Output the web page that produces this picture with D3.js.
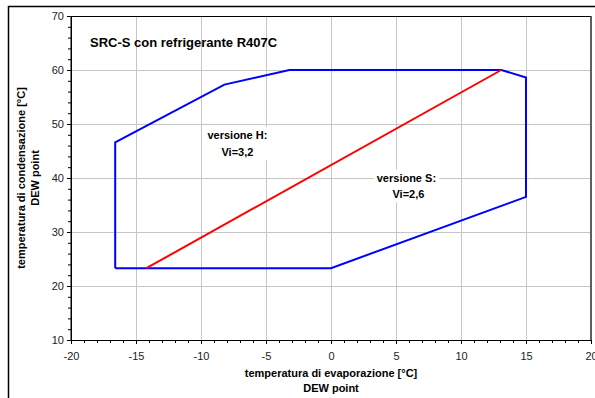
<!DOCTYPE html>
<html>
<head>
<meta charset="utf-8">
<script src="https://cdn.jsdelivr.net/npm/d3@7"></script>
<style>
    body { margin: 0; background: #fff; }
    svg { font-family: "Liberation Sans", Arial, sans-serif; }
</style>
</head>
<body>
<div id="chart"></div>
<script>
// envelope corners (evaporation °C, condensation °C)
const envelopeX = [-16.6, -16.6, -8.2, -3.2, 13.1, 15.0, 15.0, 0.0, -16.6];
const envelopeY = [23.3, 46.6, 57.3, 60.0, 60.0, 58.6, 36.5, 23.3, 23.3];
// split line between versions
const splitX = [-14.2, 13.1];
const splitY = [23.3, 60.0];

const xTicks = [-20, -15, -10, -5, 0, 5, 10, 15, 20];
const yTicks = [10, 20, 30, 40, 50, 60, 70];

const labels = [
    { x: -7.2, y: 47.2, lines: ["versione H:", "Vi=3,2"], shift: 0 },
    { x: 5.8, y: 39.3, lines: ["versione S:", "Vi=2,6"], shift: 2 }
];

const width = 595;
const height = 398;
const margin = { top: 16, right: 4, bottom: 58, left: 71 };

const svg = d3.select("#chart").append("svg")
    .attr("width", width)
    .attr("height", height);

// outer frame (clipped at right and bottom)
svg.append("path")
    .attr("d", "M8.5,398V6.5H595")
    .attr("fill", "none")
    .attr("stroke", "#000")
    .attr("stroke-width", 1.5);

const x = d3.scaleLinear().domain([-20, 20]).range([margin.left, width - margin.right]);
const y = d3.scaleLinear().domain([10, 70]).range([height - margin.bottom, margin.top]);

// grid
svg.append("g").selectAll("line")
    .data(xTicks.slice(1, -1))
    .enter().append("line")
    .attr("x1", d => Math.round(x(d)) + 0.5)
    .attr("x2", d => Math.round(x(d)) + 0.5)
    .attr("y1", y(70))
    .attr("y2", y(10))
    .attr("stroke", "#c6c6c6");

svg.append("g").selectAll("line")
    .data(yTicks.slice(1, -1))
    .enter().append("line")
    .attr("x1", x(-20))
    .attr("x2", x(20))
    .attr("y1", d => Math.round(y(d)) + 0.5)
    .attr("y2", d => Math.round(y(d)) + 0.5)
    .attr("stroke", "#c6c6c6");

// annotation boxes (white background over grid)
const ann = svg.append("g")
    .attr("font-size", "11px")
    .attr("font-weight", "bold")
    .attr("fill", "#000");

labels.forEach(l => {
    const g = ann.append("g")
        .attr("transform", `translate(${x(l.x)},${y(l.y)})`);
    const bg = g.append("rect").attr("fill", "#fff");
    l.lines.forEach((t, i) => {
        g.append("text")
            .attr("x", i === 1 ? l.shift : 0)
            .attr("y", i * 16.5)
            .attr("text-anchor", "middle")
            .text(t);
    });
    const bb = g.node().getBBox();
    bg.attr("x", bb.x - 3).attr("y", bb.y - 2)
        .attr("width", bb.width + 6).attr("height", bb.height + 4);
});

// plot border
svg.append("rect")
    .attr("x", x(-20))
    .attr("y", y(70) + 0.5)
    .attr("width", x(20) - x(-20))
    .attr("height", y(10) - y(70))
    .attr("fill", "none")
    .attr("stroke", "#000");

svg.append("line")
    .attr("x1", x(20)).attr("x2", x(20))
    .attr("y1", y(70)).attr("y2", y(10))
    .attr("stroke", "#555")
    .attr("stroke-width", 1.5);

// axes
const xAxis = svg.append("g")
    .attr("transform", `translate(0,${y(10)})`)
    .call(d3.axisBottom(x).tickValues(xTicks).tickSize(4).tickPadding(8)
        .tickFormat(d => d));
xAxis.select(".domain").attr("stroke", "#000");

svg.append("g")
    .attr("transform", `translate(0,${y(10)})`)
    .call(d3.axisBottom(x).tickValues(d3.range(-20, 21, 1)).tickSize(3).tickFormat(""))
    .call(g => g.select(".domain").remove());

const yAxis = svg.append("g")
    .attr("transform", `translate(${x(-20)},0)`)
    .call(d3.axisLeft(y).tickValues(yTicks).tickSize(4).tickPadding(3));
yAxis.select(".domain").attr("stroke", "#000");

svg.append("g")
    .attr("transform", `translate(${x(-20)},0)`)
    .call(d3.axisLeft(y).tickValues(d3.range(10, 71, 2)).tickSize(3).tickFormat(""))
    .call(g => g.select(".domain").remove());

svg.selectAll(".tick text")
    .attr("font-size", "11px")
    .attr("fill", "#222")
    .attr("font-family", "Liberation Sans, Arial, sans-serif");

// envelope
const line = d3.line()
    .x(d => x(d[0]))
    .y(d => y(d[1]));

svg.append("path")
    .datum(envelopeX.map((v, i) => [v, envelopeY[i]]))
    .attr("d", line)
    .attr("fill", "none")
    .attr("stroke", "#0000ff")
    .attr("stroke-width", 2);

svg.append("path")
    .datum(splitX.map((v, i) => [v, splitY[i]]))
    .attr("d", line)
    .attr("fill", "none")
    .attr("stroke", "#ff0000")
    .attr("stroke-width", 2);

// title
svg.append("text")
    .attr("x", 90)
    .attr("y", 47)
    .attr("font-size", "13px")
    .attr("font-weight", "bold")
    .text("SRC-S con refrigerante R407C");

// axis titles
const xt = svg.append("text")
    .attr("text-anchor", "middle")
    .attr("font-size", "11px")
    .attr("font-weight", "bold");
xt.append("tspan").attr("x", 331).attr("y", 377).text("temperatura di evaporazione [°C]");
xt.append("tspan").attr("x", 331).attr("y", 392).text("DEW point");

const yt = svg.append("text")
    .attr("text-anchor", "middle")
    .attr("font-size", "11px")
    .attr("font-weight", "bold")
    .attr("transform", "translate(0,178) rotate(-90)");
yt.append("tspan").attr("x", 0).attr("y", 25).text("temperatura di condensazione [°C]");
yt.append("tspan").attr("x", 0).attr("y", 39).text("DEW point");
</script>
</body>
</html>
